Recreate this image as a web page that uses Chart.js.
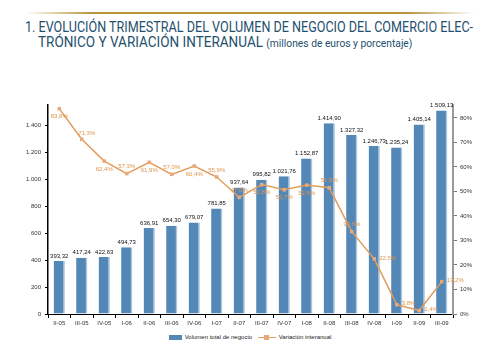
<!DOCTYPE html>
<html lang="es">
<head>
    <meta charset="UTF-8">
    <title>Evolución trimestral del comercio electrónico</title>
    <script src="https://cdn.jsdelivr.net/npm/chart.js"></script>
    <style>
        body { margin: 0; width: 500px; height: 350px; background: #fff; position: relative; overflow: hidden; font-family: Arial, "Liberation Sans", sans-serif; }
        .rule { position: absolute; left: 25px; top: 12px; width: 450px; height: 2px;
                background: linear-gradient(to right, rgba(184,149,58,0), #b8953a 15%, #b8953a 85%, rgba(184,149,58,0)); }
        .title { position: absolute; left: 25px; color: #24506e; font-family: Roboto, sans-serif; white-space: nowrap; transform-origin: 0 0; }
        #t1 { top: 19px; font-size: 14.5px; }
        #t2 { top: 34px; left: 38px; font-size: 14.5px; }
        #t2 small { font-size: 11px; }
        #wrap { position: absolute; left: 0; top: 95px; width: 500px; height: 235px; }
        #legend { position: absolute; top: 334px; left: 0; width: 500px; text-align: center; font-size: 6px; color: #222; }
        #legend span { display: inline-block; vertical-align: middle; }
        .box { width: 13px; height: 5px; background: #5287b6; margin-right: 3px; }
        .ln { width: 18px; height: 1.5px; background: #e39c5a; position: relative; margin: 0 3px 0 4px; }
        .ln::after { content: ""; position: absolute; left: 6px; top: -2px; width: 5px; height: 5px; background: #e8a87a; }
    </style>
</head>
<body>
    <div class="rule"></div>
    <div class="title" id="t1">1. EVOLUCIÓN TRIMESTRAL DEL VOLUMEN DE NEGOCIO DEL COMERCIO ELEC-</div>
    <div class="title" id="t2">TRÓNICO Y VARIACIÓN INTERANUAL <small>(millones de euros y porcentaje)</small></div>
    <div id="wrap"><canvas id="chart"></canvas></div>
    <div id="legend">
        <span class="box"></span><span>Volumen total de negocio</span>
        <span class="ln"></span><span>Variación interanual</span>
    </div>

    <script>
        const categories = ['II-05', 'III-05', 'IV-05', 'I-06', 'II-06', 'III-06', 'IV-06', 'I-07', 'II-07',
            'III-07', 'IV-07', 'I-08', 'II-08', 'III-08', 'IV-08', 'I-09', 'II-09', 'III-09'];
        const volumen = [393.32, 417.24, 422.63, 494.73, 636.91, 654.30, 679.07, 781.85, 937.64,
            995.82, 1021.76, 1152.87, 1414.90, 1327.32, 1246.73, 1235.24, 1405.14, 1509.13];
        const variacion = [83.8, 71.3, 62.4, 57.3, 61.9, 57.0, 60.4, 55.9, 47.6,
            52.8, 50.7, 52.6, 51.5, 33.6, 22.5, 3.8, 1.4, 13.2];

        // fit title lines to the width they take in the original
        function fit(id, w) {
            let el = document.getElementById(id);
            el.style.transform = 'scaleX(' + (w / el.offsetWidth) + ')';
        }
        fit('t1', 448);
        fit('t2', 374);

        function num(v, d) {
            let parts = v.toFixed(d).split('.');
            parts[0] = parts[0].replace(/\B(?=(\d{3})+(?!\d))/g, '.');
            return parts.join(',');
        }

        // where each line label sits relative to its point
        const labelPos = ['below', 'aboveRight', 'below', 'above', 'below', 'above', 'below', 'above', 'above',
            'below', 'below', 'below', 'above', 'above', 'right', 'right', 'right', 'right'];

        const valueLabels = {
            id: 'valueLabels',
            afterDatasetsDraw(chart) {
                let ctx = chart.ctx;
                ctx.save();
                ctx.font = '6px Arial';
                ctx.textAlign = 'center';
                ctx.textBaseline = 'bottom';
                ctx.fillStyle = '#111';
                chart.getDatasetMeta(0).data.forEach((bar, i) => {
                    ctx.fillText(num(volumen[i], 2), bar.x, bar.y - 2);
                });
                ctx.fillStyle = '#e0944c';
                ctx.textBaseline = 'middle';
                chart.getDatasetMeta(1).data.forEach((pt, i) => {
                    let txt = num(variacion[i], 1) + '%';
                    let x = pt.x, y = pt.y;
                    ctx.textAlign = 'center';
                    if (labelPos[i] === 'below') y += 8;
                    else if (labelPos[i] === 'above') y -= 7;
                    else if (labelPos[i] === 'aboveRight') { y -= 6; x += 5; }
                    else { ctx.textAlign = 'left'; x += 5; y -= 1; }
                    ctx.fillText(txt, x, y);
                });
                ctx.restore();
            }
        };

        new Chart(document.getElementById('chart'), {
            type: 'bar',
            data: {
                labels: categories,
                datasets: [{
                    label: 'Volumen total de negocio',
                    data: volumen,
                    backgroundColor: '#5287b6',
                    borderColor: '#a9c6e0',
                    borderWidth: { right: 1.5, left: 0, top: 0, bottom: 0 },
                    barPercentage: 0.5,
                    categoryPercentage: 1,
                    yAxisID: 'y',
                    order: 1
                }, {
                    type: 'line',
                    label: 'Variación interanual',
                    data: variacion,
                    borderColor: '#e39c5a',
                    backgroundColor: '#e8a87a',
                    borderWidth: 1.5,
                    pointStyle: 'rect',
                    pointRadius: 2.5,
                    pointBorderWidth: 0,
                    tension: 0,
                    yAxisID: 'y1',
                    order: 0
                }]
            },
            options: {
                responsive: true,
                maintainAspectRatio: false,
                animation: false,
                layout: { padding: { top: 10 } },
                plugins: { legend: { display: false }, tooltip: { enabled: false } },
                scales: {
                    x: {
                        grid: { drawOnChartArea: false, offset: true, tickLength: 4, color: '#000' },
                        border: { color: '#000', width: 1 },
                        ticks: { font: { size: 6 }, color: '#333', maxRotation: 0, autoSkip: false, padding: 2 },
                        afterFit: s => { s.height = 16; }
                    },
                    y: {
                        position: 'left',
                        min: 0,
                        max: 1550,
                        grid: { drawOnChartArea: false, tickLength: 3, color: '#000' },
                        border: { color: '#000', width: 1.5 },
                        ticks: { stepSize: 200, includeBounds: false, font: { size: 6 }, color: '#333', padding: 4,
                                 callback: v => num(v, 0) },
                        afterFit: s => { s.width = 48; }
                    },
                    y1: {
                        position: 'right',
                        min: 0,
                        max: 85.3,
                        grid: { drawOnChartArea: false, tickLength: 4, color: '#777' },
                        border: { color: '#999', width: 2 },
                        ticks: { stepSize: 10, includeBounds: false, font: { size: 6 }, color: '#333', padding: 3,
                                 callback: v => v + '%' },
                        afterFit: s => { s.width = 47; }
                    }
                }
            },
            plugins: [valueLabels]
        });
    </script>
</body>
</html>
